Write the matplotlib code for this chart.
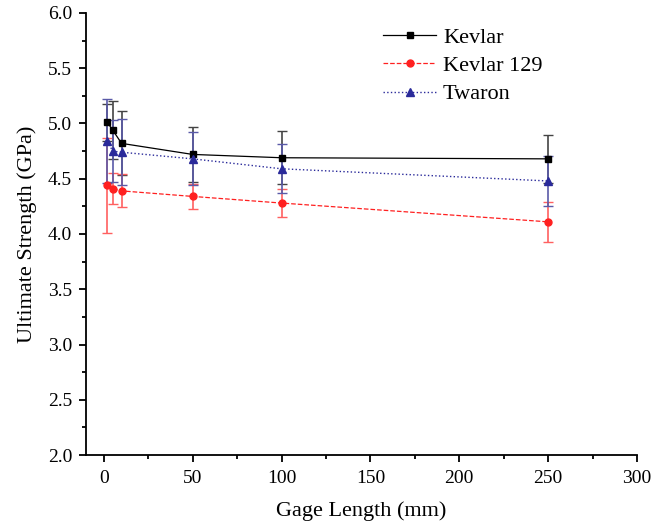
import matplotlib.pyplot as plt
from matplotlib.ticker import MultipleLocator

# Gage length (mm)
gage = [2, 5, 10, 50, 100, 250]

# Ultimate strength (GPa) and error (GPa)
kevlar = [5.01, 4.94, 4.82, 4.72, 4.69, 4.68]
kevlar_err = [0.17, 0.26, 0.29, 0.25, 0.24, 0.22]
kevlar129 = [4.44, 4.41, 4.39, 4.34, 4.28, 4.11]
kevlar129_err = [0.43, 0.14, 0.15, 0.11, 0.13, 0.18]
twaron = [4.84, 4.75, 4.74, 4.68, 4.59, 4.48]
twaron_err = [0.38, 0.28, 0.30, 0.24, 0.22, 0.23]
names = ['Kevlar', 'Kevlar 129', 'Twaron']

plt.rcParams['font.family'] = ['Liberation Serif', 'DejaVu Serif']

fig = plt.figure(figsize=(6.69, 5.30), dpi=100)
ax = fig.add_axes([0.1286, 0.1415, 0.8235, 0.834])

eb1 = ax.errorbar(gage, kevlar, yerr=kevlar_err, color='black', marker='s', markersize=4.5,
                  linestyle='-', linewidth=0.9, capsize=3.6, elinewidth=1.2, ecolor='#444444')
eb2 = ax.errorbar(gage, kevlar129, yerr=kevlar129_err, color='#ff2020', marker='o', markersize=5,
                  linestyle='--', linewidth=0.9, capsize=3.6, elinewidth=1.2, ecolor='#ff6060')
eb3 = ax.errorbar(gage, twaron, yerr=twaron_err, color='#2a2a9a', marker='^', markersize=5.5,
                  linestyle=':', linewidth=1.0, capsize=3.6, elinewidth=1.2, ecolor='#5a5aa8')

ax.set_xlim(-10, 300)
ax.set_ylim(2.0, 6.0)
ax.xaxis.set_major_locator(MultipleLocator(50))
ax.xaxis.set_minor_locator(MultipleLocator(25))
ax.yaxis.set_major_locator(MultipleLocator(0.5))
ax.yaxis.set_minor_locator(MultipleLocator(0.25))
ax.yaxis.set_major_formatter(plt.FormatStrFormatter('%.1f'))

ax.spines['top'].set_visible(False)
ax.spines['right'].set_visible(False)
ax.spines['left'].set_linewidth(1.3)
ax.spines['bottom'].set_linewidth(1.3)
ax.tick_params(which='major', direction='out', length=5, width=1.3, labelsize=14)
ax.tick_params(which='minor', direction='out', length=3, width=1.3)
ax.tick_params(axis='x', which='major', pad=6)
ax.tick_params(axis='y', which='major', pad=5)

ax.set_xlabel('Gage Length (mm)', fontsize=16, labelpad=10)
ax.set_ylabel('Ultimate Strength (GPa)', fontsize=16, labelpad=8)

ax.legend([eb1[0], eb2[0], eb3[0]], names, loc='upper left', numpoints=1,
          bbox_to_anchor=(0.539, 0.968), frameon=False, borderpad=0, borderaxespad=0,
          fontsize=16, handlelength=2.4, handletextpad=0.3, labelspacing=0.35)

fig.savefig('out.png', dpi=100)
